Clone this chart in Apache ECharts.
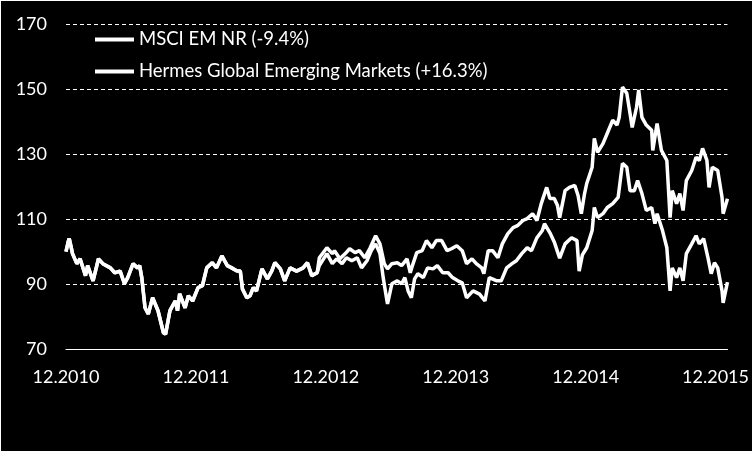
<!DOCTYPE html>
<html>
<head>
<meta charset="utf-8">
<script src="https://cdn.jsdelivr.net/npm/echarts@6/dist/echarts.min.js"></script>
<style>
  html, body { margin: 0; padding: 0; background: #fff; }
  #wrap { position: absolute; left: 1px; top: 1px; width: 751px; height: 450px; background: #000; }
  #chart { width: 751px; height: 450px; }
</style>
</head>
<body>
<div id="wrap"><div id="chart"></div></div>
<script>
// months since 12.2010, index value (start = 100)
// both funds track each other closely until late 2012
const earlyPoints = [
  [0, 100], [0.2, 103], [0.3, 104], [0.5, 101], [0.6, 99.4], [1.0, 96.3], [1.3, 97.8], [1.8, 92.6], [2.0, 95.7], [2.5, 91],
  [3.0, 97.8], [3.4, 96.3], [4.1, 95], [4.5, 93.5], [5.0, 94], [5.4, 90.1], [5.7, 92], [6.2, 96.3], [6.6, 95], [6.8, 95.7],
  [7.0, 92], [7.3, 82.7], [7.6, 80.8], [8.0, 85.8], [8.5, 81.8], [9.0, 75], [9.2, 74.6], [9.6, 81.8], [10.1, 84.8], [10.3, 81.8],
  [10.5, 87], [11.0, 82.7], [11.3, 86.4], [11.7, 84.8], [12.2, 88.9], [12.6, 89.5], [13.0, 95], [13.5, 96.6], [13.9, 95], [14.4, 98.7],
  [14.9, 95.7], [15.3, 95], [15.8, 94], [16.1, 94], [16.3, 88.5], [16.7, 85.8], [17.0, 86.4], [17.3, 88.9], [17.6, 87.9], [18.1, 94.7],
  [18.6, 91.6], [19.0, 94], [19.3, 96.6], [19.8, 94.7], [20.2, 91], [20.7, 95], [21.3, 94], [21.9, 95], [22.3, 96.6], [22.7, 92.6],
  [23.2, 93.5]
];

const hermesPoints = [
  [23.4, 98.1], [24.1, 101.2], [24.6, 99.4], [24.8, 100.3], [25.3, 97.8], [25.8, 99.4], [26.2, 100.9], [26.7, 99.7], [27.1, 100.3], [27.6, 98.1],
  [28.1, 101.2], [28.6, 104.9], [29.0, 102.4], [29.4, 96.3], [29.7, 94.7], [30.1, 96.3], [30.6, 96.6], [31.0, 95.7], [31.5, 97.8], [31.8, 93.5],
  [32.0, 95.7], [32.4, 99.7], [32.9, 100.3], [33.3, 103.4], [33.8, 101.2], [34.2, 103.4], [34.7, 103.4], [35.2, 100.3], [35.6, 100.9], [36.1, 101.8],
  [36.6, 100.3], [37.0, 96.3], [37.5, 97.8], [37.9, 96.3], [38.4, 95], [38.6, 93.2], [39.0, 100.3], [39.4, 100.3], [39.9, 98.1], [40.3, 102.4],
  [40.8, 105.5], [41.3, 107.4], [41.7, 108], [42.2, 109.6], [42.6, 110.2], [43.1, 111.7], [43.5, 109.6], [43.9, 114.8], [44.4, 119.8], [44.7, 116.4],
  [45.1, 116.4], [45.4, 114.2], [45.6, 110.5], [46.1, 118.8], [46.5, 119.8], [47.0, 120.4], [47.3, 117.3], [47.6, 111.7], [47.9, 117.9], [48.1, 121],
  [48.6, 126], [48.8, 134.9], [49.1, 130.6], [49.6, 133.3], [50.0, 136.5], [50.5, 140.5], [50.9, 139], [51.1, 141.4], [51.4, 150.7], [51.8, 148.8],
  [52.1, 142.6], [52.3, 138.3], [52.7, 144.5], [52.9, 149.8], [53.2, 141.4], [53.6, 139], [54.1, 137.4], [54.2, 131.2], [54.6, 139.5], [55.0, 131.2],
  [55.5, 128.1], [55.8, 110.5], [56.0, 118.8], [56.4, 114.8], [56.7, 117.9], [57.0, 112.7], [57.3, 121.9], [57.8, 125], [58.2, 129.1], [58.5, 128.1],
  [58.8, 131.8], [59.2, 128.1], [59.4, 119.8], [59.7, 126], [60.2, 125], [60.6, 116.7], [60.7, 111.7], [61.1, 116.3]
];

const msciPoints = [
  [23.4, 95.7], [24.1, 99.4], [24.6, 96.3], [25.0, 97.8], [25.5, 96.3], [25.9, 98.1], [26.4, 97.2], [26.9, 98.1], [27.3, 95], [27.8, 97.2],
  [28.2, 100.3], [28.6, 102.4], [29.0, 99.4], [29.3, 92], [29.6, 85.8], [29.7, 83.9], [30.1, 90.1], [30.6, 91], [31.0, 90.1], [31.3, 92],
  [31.6, 87.9], [31.9, 85.8], [32.2, 91.6], [32.5, 93.2], [33.0, 92], [33.4, 95], [33.9, 94.7], [34.3, 95.7], [34.8, 93.5], [35.3, 93.5],
  [35.7, 92], [36.2, 91], [36.6, 90.4], [37.0, 85.8], [37.6, 87.9], [38.2, 86.9], [38.7, 84.8], [39.1, 92], [39.8, 91], [40.2, 91],
  [40.7, 95], [41.2, 96.3], [41.6, 97.2], [42.1, 99.4], [42.6, 101.2], [43.0, 100.3], [43.5, 104.3], [44.0, 106.5], [44.2, 108.6], [44.7, 105.8],
  [45.1, 103], [45.6, 98], [46.1, 102.4], [46.7, 104.3], [47.2, 103.4], [47.4, 94], [47.7, 99], [48.1, 101.2], [48.6, 106.5], [48.8, 113.6],
  [49.1, 110.5], [49.6, 111.7], [50.0, 113.6], [50.5, 114.8], [51.0, 116.7], [51.4, 127.2], [51.8, 126], [52.1, 118.8], [52.5, 118.8], [52.8, 121.9],
  [53.2, 117.9], [53.6, 112.7], [54.1, 113.6], [54.4, 108.6], [54.6, 111.7], [55.1, 106.5], [55.5, 101.2], [55.8, 87.9], [56.0, 95], [56.4, 92],
  [56.7, 95], [57.0, 91], [57.3, 99.4], [57.8, 102.4], [58.2, 104.9], [58.5, 102.4], [58.9, 104], [59.3, 98.1], [59.6, 93.2], [59.9, 96.6],
  [60.2, 95], [60.6, 87.9], [60.7, 84.2], [61.1, 90.6]
];

const seriesNames = ['MSCI EM NR (-9.4%)', 'Hermes Global Emerging Markets (+16.3%)'];
const yTicks = [70, 90, 110, 130, 150, 170];

const chart = echarts.init(document.getElementById('chart'));
const font = 'Lato, "Open Sans", sans-serif';

chart.setOption({
  backgroundColor: '#000',
  animation: false,
  grid: { left: 65, right: 23, top: 23.5, bottom: 102 },
  legend: {
    data: seriesNames,
    orient: 'vertical',
    left: 89,
    top: 24,
    itemGap: 13,
    icon: 'rect',
    itemWidth: 39,
    itemHeight: 4,
    textStyle: { color: '#fff', fontSize: 18.5, fontFamily: font }
  },
  xAxis: {
    type: 'value',
    min: 0,
    max: 61.1,
    interval: 12,
    axisLine: { lineStyle: { color: '#fff', width: 1 } },
    axisTick: { show: false },
    splitLine: { show: false },
    axisLabel: {
      color: '#fff',
      fontSize: 18,
      fontFamily: font,
      margin: 19,
      formatter: v => '12.' + (2010 + v / 12)
    }
  },
  yAxis: {
    type: 'value',
    min: yTicks[0],
    max: yTicks[yTicks.length - 1],
    interval: 20,
    axisLine: { show: false },
    axisTick: { show: false },
    splitLine: { lineStyle: { color: '#fff', type: [4, 3], width: 1 } },
    axisLabel: { color: '#fff', fontSize: 18, fontFamily: font, margin: 19 }
  },
  series: [
    {
      name: seriesNames[0],
      type: 'line',
      data: earlyPoints.concat(msciPoints),
      symbol: 'none',
      lineStyle: { color: '#fff', width: 3.5 },
      itemStyle: { color: '#fff' }
    },
    {
      name: seriesNames[1],
      type: 'line',
      data: earlyPoints.concat(hermesPoints),
      symbol: 'none',
      lineStyle: { color: '#fff', width: 3.5 },
      itemStyle: { color: '#fff' }
    }
  ]
});
</script>
</body>
</html>
